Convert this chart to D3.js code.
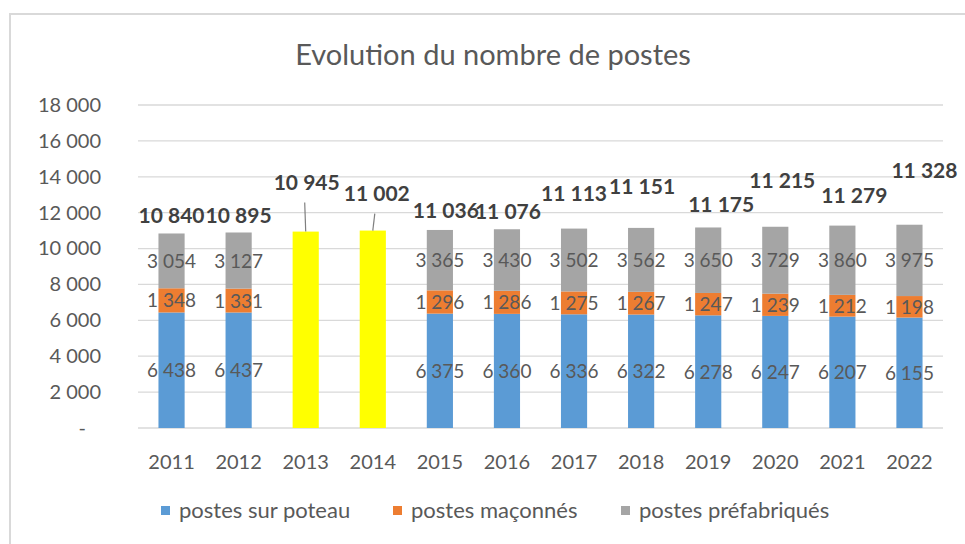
<!DOCTYPE html>
<html>
<head>
<meta charset="utf-8">
<script src="https://cdn.jsdelivr.net/npm/d3@7"></script>
<style>
  body { margin: 0; background: #fff; }
  svg text { font-family: Lato, "Open Sans", sans-serif; }
</style>
</head>
<body>
<div id="chart"></div>
<script>
// data
const years = ['2011', '2012', '2013', '2014', '2015', '2016', '2017', '2018', '2019', '2020', '2021', '2022'];
const poteau = [6438, 6437, null, null, 6375, 6360, 6336, 6322, 6278, 6247, 6207, 6155];
const maconnes = [1348, 1331, null, null, 1296, 1286, 1275, 1267, 1247, 1239, 1212, 1198];
const prefab = [3054, 3127, null, null, 3365, 3430, 3502, 3562, 3650, 3729, 3860, 3975];
const totals = [10840, 10895, 10945, 11002, 11036, 11076, 11113, 11151, 11175, 11215, 11279, 11328];
const yTicks = [0, 2000, 4000, 6000, 8000, 10000, 12000, 14000, 16000, 18000];
const seriesNames = ['postes sur poteau', 'postes maçonnés', 'postes préfabriqués'];

// label placement (pixels above bar top, x shift) - the labels were moved by hand in the original
const labelLift = [10, 9, 42, 30, 11.5, 10, 28, 33.5, 15, 39, 23, 47];
const labelShift = [0, 0, 1, 4, 6, 1, 0, 1, 13, 7, 12, 15];

const colors = ['#5b9bd5', '#ed7d31', '#a5a5a5'];
const yellow = '#ffff00';
const textGrey = '#595959';

const width = 965, height = 544;
const svg = d3.select('#chart').append('svg').attr('width', width).attr('height', height);

// chart frame
svg.append('rect').attr('x', 10).attr('y', 14).attr('width', 970).attr('height', 560)
  .attr('fill', 'none').attr('stroke', '#d9d9d9').attr('stroke-width', 2);

svg.append('text').attr('x', 493).attr('y', 65).attr('text-anchor', 'middle')
  .attr('font-size', 29).attr('fill', textGrey).text('Evolution du nombre de postes');

const x = d3.scaleBand().domain(years).range([138, 943]).paddingInner(0.61).paddingOuter(0.305);
const y = d3.scaleLinear().domain([0, 18000]).range([428, 105]);

const fmtLabel = v => d3.format(',')(v).replace(/,/g, ' ');
const fmt = v => v === 0 ? '-' : fmtLabel(v);

// gridlines
svg.append('g').selectAll('line').data(yTicks).join('line')
  .attr('x1', 138).attr('x2', 943)
  .attr('y1', d => y(d)).attr('y2', d => y(d))
  .attr('stroke', '#d9d9d9').attr('stroke-width', 1.3);

// y axis
const yAxis = svg.append('g').attr('transform', 'translate(101,0)')
  .call(d3.axisLeft(y).tickValues(yTicks).tickSize(0).tickPadding(0).tickFormat(fmt));
yAxis.select('.domain').remove();
yAxis.selectAll('text').attr('font-size', 20).attr('fill', textGrey).attr('font-family', 'Lato, sans-serif');
yAxis.selectAll('.tick').filter(d => d === 0).select('text').attr('dx', -15);

// x axis
const xAxis = svg.append('g').attr('transform', 'translate(0,428)')
  .call(d3.axisBottom(x).tickSize(0).tickPadding(27));
xAxis.select('.domain').remove();
xAxis.selectAll('text').attr('font-size', 20).attr('fill', textGrey).attr('font-family', 'Lato, sans-serif');

// stacked bars
const rows = years.map((yr, i) => ({ year: yr, v: [poteau[i], maconnes[i], prefab[i]], total: totals[i] }));
const bw = x.bandwidth();
const bars = svg.append('g');
const labels = svg.append('g');

rows.forEach((r, i) => {
  const cx = x(r.year) + bw / 2;
  if (r.v[0] === null) {
    bars.append('rect').attr('x', x(r.year)).attr('width', bw)
      .attr('y', y(r.total)).attr('height', y(0) - y(r.total)).attr('fill', yellow);
    return;
  }
  let base = 0;
  r.v.forEach((v, k) => {
    bars.append('rect').attr('x', x(r.year)).attr('width', bw)
      .attr('y', y(base + v)).attr('height', y(base) - y(base + v)).attr('fill', colors[k]);
    labels.append('text').attr('x', cx).attr('y', y(base + v / 2) + 7)
      .attr('text-anchor', 'middle').attr('font-size', 19).attr('fill', textGrey)
      .text(fmtLabel(v));
    base += v;
  });
});

// totals with leader lines for the two yellow bars
rows.forEach((r, i) => {
  const cx = x(r.year) + bw / 2;
  const top = y(r.total);
  const ly = top - labelLift[i];
  if (r.v[0] === null) {
    labels.append('line').attr('x1', cx + labelShift[i] - 2).attr('x2', cx)
      .attr('y1', ly + 13).attr('y2', top)
      .attr('stroke', '#7f7f7f').attr('stroke-width', 1.2);
  }
  labels.append('text').attr('x', cx + labelShift[i]).attr('y', ly)
    .attr('text-anchor', 'middle').attr('font-size', 21).attr('font-weight', 'bold')
    .attr('fill', '#404040').text(fmtLabel(r.total));
});

// legend
const legendX = [161, 393, 621];
const legend = svg.append('g');
seriesNames.forEach((name, k) => {
  legend.append('rect').attr('x', legendX[k]).attr('y', 506).attr('width', 9).attr('height', 9)
    .attr('fill', colors[k]);
  legend.append('text').attr('x', legendX[k] + 18).attr('y', 518)
    .attr('font-size', 22).attr('fill', textGrey).text(name);
});
</script>
</body>
</html>
